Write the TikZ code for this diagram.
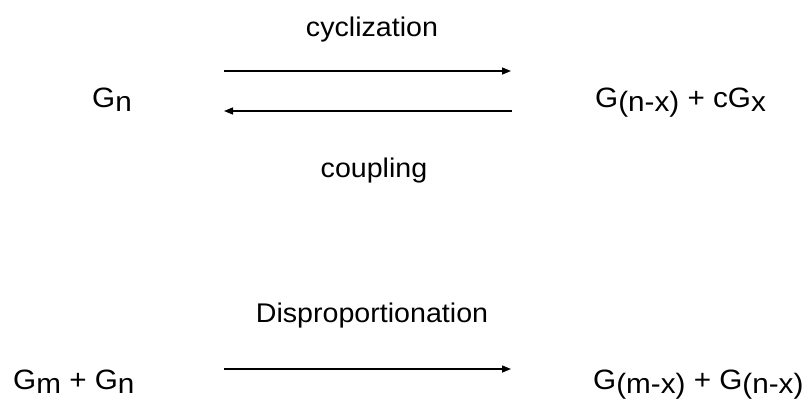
\documentclass[tikz,border=0pt]{standalone}
\usepackage{fontspec}
\setmainfont{Liberation Sans}[FakeStretch=1.06]
\usetikzlibrary{arrows.meta}
\newcommand{\mysub}[1]{\raisebox{-4pt}{#1}}
\tikzset{
  lbl/.style={inner sep=0pt, anchor=base, font=\fontsize{27}{32}\selectfont},
  spc/.style={inner sep=0pt, anchor=base west, font=\fontsize{28}{33}\selectfont},
  rxn/.style={line width=1.4pt, -{Triangle[length=9pt,width=7pt]}}
}
\begin{document}
\begin{tikzpicture}[x=1pt,y=-1pt]
\useasboundingbox (0,0) rectangle (809,402);
\node[lbl] (cyc) at (372,36) {cyclization};
\node[lbl] (coup) at (374,177) {coupling};
\node[lbl] (disp) at (372,322) {Disproportionation};
\node[spc] (gn) at (92,107) {G\mysub{n}};
\node[spc] (prod1) at (595,107) {G\mysub{(n-x)} + cG\mysub{x}};
\node[spc] (react2) at (13,389) {G\mysub{m} + G\mysub{n}};
\node[spc] (prod2) at (593,389) {G\mysub{(m-x)} + G\mysub{(n-x)}};
\coordinate (a1s) at (224,71);
\coordinate (a1e) at (511,71);
\coordinate (a2s) at (512,111);
\coordinate (a2e) at (224,111);
\coordinate (a3s) at (224,369);
\coordinate (a3e) at (511,369);
\draw[rxn] (a1s) -- (a1e);
\draw[rxn] (a2s) -- (a2e);
\draw[rxn] (a3s) -- (a3e);
\end{tikzpicture}
\end{document}
